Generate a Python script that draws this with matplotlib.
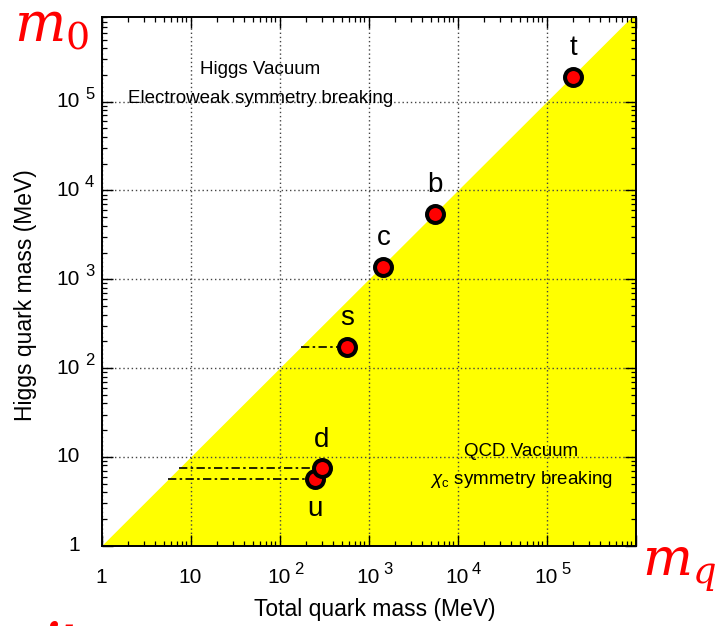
import matplotlib
matplotlib.use("Agg")
import matplotlib.pyplot as plt
import matplotlib.transforms as mtrans
from matplotlib.ticker import LogLocator, NullFormatter

plt.rcParams['font.family'] = ['Liberation Sans', 'DejaVu Sans']
plt.rcParams['mathtext.fontset'] = 'custom'
plt.rcParams['mathtext.rm'] = 'Liberation Sans'
plt.rcParams['mathtext.it'] = 'Liberation Sans:italic'

# ---- data ----
quarks = ['u', 'd', 's', 'c', 'b', 't']
total_mass = [250, 298, 570, 1470, 5600, 2.0e5]      # MeV
higgs_mass = [5.6, 7.5, 175, 1380, 5500, 1.9e5]      # MeV
label_side = ['below', 'above', 'above', 'above', 'above', 'above']
guide_quarks = ['u', 'd', 's']

x_limits = [1, 1e6]
y_limits = [1, 9e5]
tick_values = [1, 10, 1e2, 1e3, 1e4, 1e5]
tick_base = ['1', '10', '10', '10', '10', '10']
tick_exp = ['', '', '2', '3', '4', '5']

fig = plt.figure(figsize=(7.2, 6.26), dpi=100)
ax = fig.add_axes([0.141, 0.1283, 0.7417, 0.8446])
ax.set_xscale('log')
ax.set_yscale('log')
ax.set_xlim(*x_limits)
ax.set_ylim(*y_limits)

# yellow region below the diagonal
ax.fill_between(x_limits, [x_limits[0]] * 2, x_limits, color='#FFFF00',
                lw=0, zorder=1)

ax.set_axisbelow('line')
ax.grid(True, which='major', linestyle=(0, (1, 2)), color='#444444', lw=1.0)

for sp in ax.spines.values():
    sp.set_linewidth(1.4)

ax.xaxis.set_major_locator(LogLocator(base=10, numticks=20))
ax.yaxis.set_major_locator(LogLocator(base=10, numticks=20))
ax.xaxis.set_minor_locator(LogLocator(base=10, subs=range(2, 10), numticks=50))
ax.yaxis.set_minor_locator(LogLocator(base=10, subs=range(2, 10), numticks=50))
ax.xaxis.set_major_formatter(NullFormatter())
ax.yaxis.set_major_formatter(NullFormatter())
ax.xaxis.set_minor_formatter(NullFormatter())
ax.yaxis.set_minor_formatter(NullFormatter())
ax.tick_params(which='both', direction='in', top=True, right=True, color='black')
ax.tick_params(which='major', length=8, width=1.0)
ax.tick_params(which='minor', length=3.5, width=0.9)

# ROOT-style tick labels
bx = mtrans.blended_transform_factory(ax.transData, ax.transAxes)
by = mtrans.blended_transform_factory(ax.transAxes, ax.transData)
for v, b, e in zip(tick_values, tick_base, tick_exp):
    ax.annotate(b, xy=(v, 0), xycoords=bx, xytext=(0, -23), textcoords='offset points',
                ha='center', va='center', fontsize=15, annotation_clip=False)
    ax.annotate(b, xy=(0, v), xycoords=by, xytext=(-15.5, 0), textcoords='offset points',
                ha='right', va='center', fontsize=15, annotation_clip=False)
    if e:
        ax.annotate(e, xy=(v, 0), xycoords=bx, xytext=(10.5, -17), textcoords='offset points',
                    ha='left', va='center', fontsize=12, annotation_clip=False)
        ax.annotate(e, xy=(0, v), xycoords=by, xytext=(-11.9, 5.5), textcoords='offset points',
                    ha='left', va='center', fontsize=12, annotation_clip=False)

ax.set_xlabel('Total quark mass (MeV)', fontsize=16.5)
ax.set_ylabel('Higgs quark mass (MeV)', fontsize=16.5)
ax.xaxis.set_label_coords(0.512, -0.12)
ax.xaxis.label.set_va('center')
ax.yaxis.set_label_coords(-0.143, 0.474)
ax.yaxis.label.set_va('center')

# dash-dot guides from the diagonal to the point
for q, xt, yh in zip(quarks, total_mass, higgs_mass):
    if q in guide_quarks:
        ax.plot([yh, xt], [yh, yh], color='black', lw=1.2,
                linestyle=(0, (5, 2, 1.5, 2)), zorder=2)

ax.plot(total_mass, higgs_mass, linestyle='none', marker='o', ms=12.2,
        mfc='#FF0000', mec='black', mew=2.9, zorder=4)

for q, xt, yh, side in zip(quarks, total_mass, higgs_mass, label_side):
    dy = 20.5 if side == 'above' else -21.5
    ax.annotate(q, xy=(xt, yh), xytext=(0, dy), textcoords='offset points',
                ha='center', va='center', fontsize=20, zorder=5)

ax.text(0.297, 0.900, 'Higgs Vacuum', transform=ax.transAxes, ha='center',
        va='center', fontsize=13.5)
ax.text(0.297, 0.845, 'Electroweak symmetry breaking', transform=ax.transAxes,
        ha='center', va='center', fontsize=13.5)
ax.text(0.786, 0.178, 'QCD Vacuum', transform=ax.transAxes, ha='center',
        va='center', fontsize=13.5)
ax.text(0.786, 0.125, r'$\chi_{\mathrm{c}}$ symmetry breaking', transform=ax.transAxes,
        ha='center', va='center', fontsize=13.5)

# red annotations
fig.text(14 / 720, 1 - 41 / 626, r'$m_0$', color='#FF0000', fontsize=39,
         math_fontfamily='dejavuserif', ha='left', va='baseline')
fig.text(642 / 720, 1 - 576 / 626, r'$m_q$', color='#FF0000', fontsize=38,
         math_fontfamily='dejavuserif', ha='left', va='baseline')
fig.text(44 / 720, -0.058, 'it', color='#FF0000', fontsize=30, family='DejaVu Serif',
         style='italic', weight='bold', ha='left', va='bottom')

fig.savefig('out.png', dpi=100, facecolor='white')
